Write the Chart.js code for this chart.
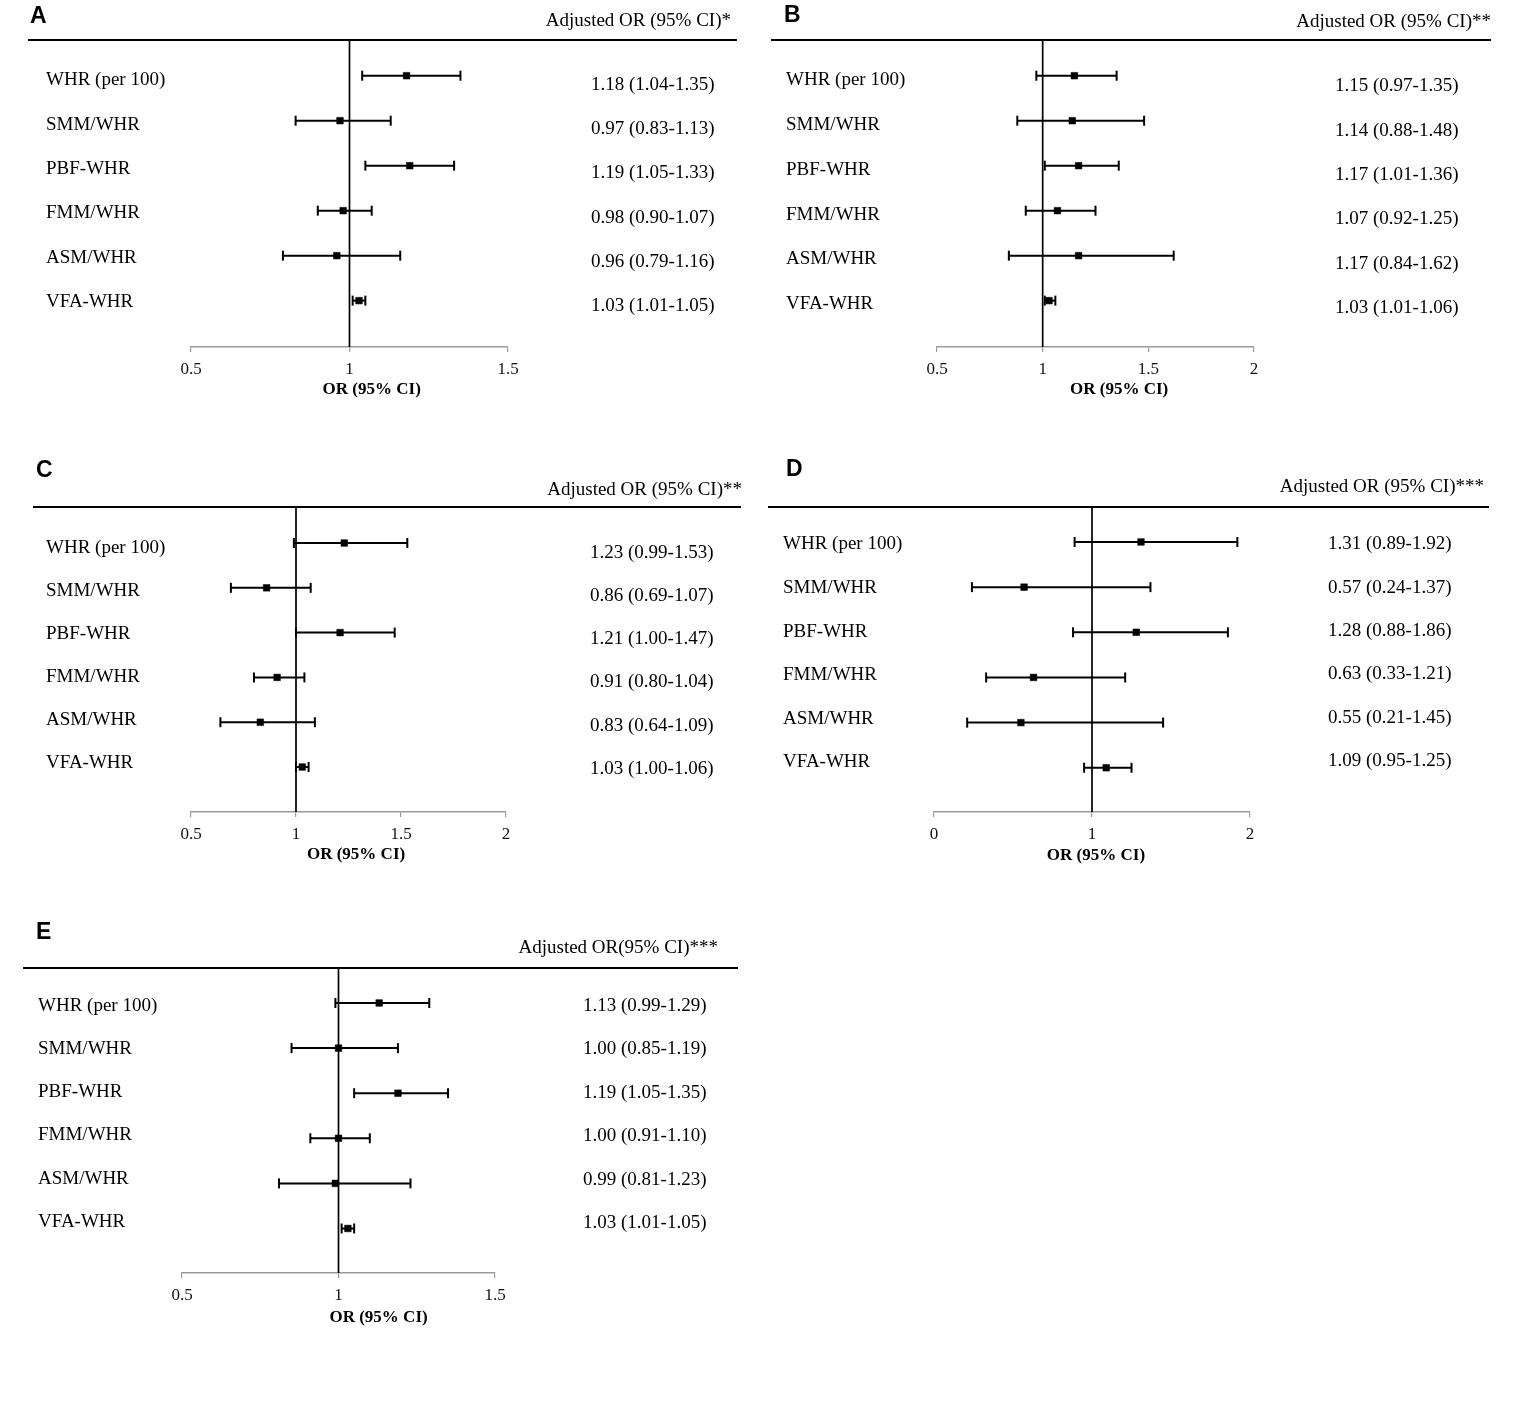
<!DOCTYPE html>
<html><head><meta charset="utf-8">
<script src="https://cdn.jsdelivr.net/npm/chart.js@4.4.1/dist/chart.umd.min.js"></script>
<style>
html,body{margin:0;padding:0;background:#fff;}
#wrap{position:relative;width:1535px;height:1402px;background:#fff;overflow:hidden;}
#wrap canvas{position:absolute;}
</style></head>
<body><div id="wrap"></div>
<script>
// ---------- data ----------
const categories = ["WHR (per 100)", "SMM/WHR", "PBF-WHR", "FMM/WHR", "ASM/WHR", "VFA-WHR"];
const refValue = 1;
const axisTitle = "OR (95% CI)";

const headerA = "Adjusted OR (95% CI)*";
const orA = [1.18, 0.97, 1.19, 0.98, 0.96, 1.03];
const loA = [1.04, 0.83, 1.05, 0.90, 0.79, 1.01];
const hiA = [1.35, 1.13, 1.33, 1.07, 1.16, 1.05];
const ticksA = [0.5, 1, 1.5];

const headerB = "Adjusted OR (95% CI)**";
const orB = [1.15, 1.14, 1.17, 1.07, 1.17, 1.03];
const loB = [0.97, 0.88, 1.01, 0.92, 0.84, 1.01];
const hiB = [1.35, 1.48, 1.36, 1.25, 1.62, 1.06];
const ticksB = [0.5, 1, 1.5, 2];

const headerC = "Adjusted OR (95% CI)**";
const orC = [1.23, 0.86, 1.21, 0.91, 0.83, 1.03];
const loC = [0.99, 0.69, 1.00, 0.80, 0.64, 1.00];
const hiC = [1.53, 1.07, 1.47, 1.04, 1.09, 1.06];
const ticksC = [0.5, 1, 1.5, 2];

const headerD = "Adjusted OR (95% CI)***";
const orD = [1.31, 0.57, 1.28, 0.63, 0.55, 1.09];
const loD = [0.89, 0.24, 0.88, 0.33, 0.21, 0.95];
const hiD = [1.92, 1.37, 1.86, 1.21, 1.45, 1.25];
const ticksD = [0, 1, 2];

const headerE = "Adjusted OR(95% CI)***";
const orE = [1.13, 1.00, 1.19, 1.00, 0.99, 1.03];
const loE = [0.99, 0.85, 1.05, 0.91, 0.81, 1.01];
const hiE = [1.29, 1.19, 1.35, 1.10, 1.23, 1.05];
const ticksE = [0.5, 1, 1.5];

// ---------- layout (page pixels) ----------
const layouts = {
  A:{canvas:[0,0,765,420], area:{L:191,R:508,T:40,B:347}, yr:[-0.794,6.031], letter:[30,17], header:[731,21], hline:[28,737],
     labelX:46, valueX:591, labelOff:[4.5,-0.55], valueOff:[9,-0.65], titleAt:1.07, titleY:390},
  B:{canvas:[765,0,770,420], area:{L:937,R:1254,T:40,B:347}, yr:[-0.794,6.031], letter:[784,16], header:[1491,22], hline:[771,1491],
     labelX:786, valueX:1335, labelOff:[4.8,-0.3], valueOff:[10.5,-0.6], titleAt:1.362, titleY:390},
  C:{canvas:[0,440,765,440], area:{L:191,R:506,T:507,B:812}, yr:[-0.804,6.004], letter:[36,471], header:[742,490], hline:[33,741],
     labelX:46, valueX:590, labelOff:[4.6,-1.7], valueOff:[9.8,-1.6], titleAt:1.286, titleY:855},
  D:{canvas:[765,440,770,440], area:{L:934,R:1250,T:507,B:812}, yr:[-0.775,5.98], letter:[786,470], header:[1484,487], hline:[768,1489],
     labelX:783, valueX:1328, labelOff:[2.5,-1.6], valueOff:[2.2,-1.8], titleAt:1.025, titleY:856},
  E:{canvas:[0,900,765,460], area:{L:182,R:495,T:968,B:1273}, yr:[-0.776,5.987], letter:[36,933], header:[718,948], hline:[23,738],
     labelX:38, valueX:583, labelOff:[2.6,-1.8], valueOff:[2.7,-1.6], titleAt:1.128, titleY:1318}
};

const panels = [
  {id:'A', header:headerA, or:orA, lo:loA, hi:hiA, ticks:ticksA},
  {id:'B', header:headerB, or:orB, lo:loB, hi:hiB, ticks:ticksB},
  {id:'C', header:headerC, or:orC, lo:loC, hi:hiC, ticks:ticksC},
  {id:'D', header:headerD, or:orD, lo:loD, hi:hiD, ticks:ticksD},
  {id:'E', header:headerE, or:orE, lo:loE, hi:hiE, ticks:ticksE}
];

const SERIF = '"Liberation Serif", "Times New Roman", serif';
const SANS = '"Liberation Sans", Arial, sans-serif';
const XH = 40; // fixed x-scale height

function fmt(v){ return v.toFixed(2); }

function makePlugin(p, L){
  return {
    id: 'forest' + p.id,
    afterDraw(chart){
      const ctx = chart.ctx, ox = L.canvas[0], oy = L.canvas[1];
      const xs = chart.scales.x, ys = chart.scales.y;
      ctx.save();
      // header rule
      ctx.strokeStyle = '#000'; ctx.lineWidth = 2;
      ctx.beginPath();
      ctx.moveTo(L.hline[0]-ox, chart.chartArea.top);
      ctx.lineTo(L.hline[1]-ox, chart.chartArea.top);
      ctx.stroke();
      ctx.fillStyle = '#000';
      // panel letter
      ctx.font = 'bold 23px ' + SANS;
      ctx.textAlign = 'left'; ctx.textBaseline = 'middle';
      ctx.fillText(p.id, L.letter[0]-ox, L.letter[1]-oy);
      // header
      ctx.font = '19px ' + SERIF;
      ctx.textAlign = 'right';
      ctx.fillText(p.header, L.header[0]-ox, L.header[1]-oy);
      // row labels and values
      ctx.textAlign = 'left';
      categories.forEach((c, i) => {
        const yb = ys.getPixelForValue(i);
        ctx.fillText(c, L.labelX-ox, yb + L.labelOff[0] + L.labelOff[1]*i);
        const txt = fmt(p.or[i]) + ' (' + fmt(p.lo[i]) + '-' + fmt(p.hi[i]) + ')';
        ctx.fillText(txt, L.valueX-ox, yb + L.valueOff[0] + L.valueOff[1]*i);
      });
      // axis title
      ctx.font = 'bold 17px ' + SERIF;
      ctx.textAlign = 'center';
      ctx.fillText(axisTitle, xs.getPixelForValue(L.titleAt), L.titleY-oy);
      ctx.restore();
    }
  };
}

const wrap = document.getElementById('wrap');
panels.forEach(p => {
  const L = layouts[p.id];
  const [cx, cy, cw, ch] = L.canvas;
  const cv = document.createElement('canvas');
  cv.width = cw; cv.height = ch;
  cv.style.left = cx + 'px'; cv.style.top = cy + 'px';
  cv.style.width = cw + 'px'; cv.style.height = ch + 'px';
  wrap.appendChild(cv);

  const datasets = [];
  p.or.forEach((v, i) => {
    datasets.push({data:[{x:v, y:i}], pointStyle:'rect', pointRadius:4.7,
      pointBackgroundColor:'#000', pointBorderColor:'#000', pointBorderWidth:0.5, showLine:false});
  });
  p.lo.forEach((lo, i) => {
    datasets.push({data:[{x:lo, y:i}, {x:p.hi[i], y:i}], showLine:true, borderColor:'#000', borderWidth:2,
      pointStyle:'line', pointRotation:90, pointRadius:5, pointBorderColor:'#000', pointBorderWidth:2});
  });
  datasets.push({data:[{x:refValue, y:L.yr[0]}, {x:refValue, y:L.yr[1]}], showLine:true,
    borderColor:'#000', borderWidth:1.7, pointRadius:0});

  new Chart(cv, {
    type:'scatter',
    data:{datasets},
    options:{
      responsive:false, animation:false, devicePixelRatio:1,
      events:[],
      layout:{padding:{left:L.area.L-cx, right:cx+cw-L.area.R, top:L.area.T-cy, bottom:cy+ch-L.area.B-XH}},
      plugins:{legend:{display:false}, tooltip:{enabled:false}},
      scales:{
        x:{type:'linear', min:p.ticks[0], max:p.ticks[p.ticks.length-1],
          afterBuildTicks:(s)=>{ s.ticks = p.ticks.map(v=>({value:v})); },
          afterFit:(s)=>{ s.height = XH; },
          grid:{drawOnChartArea:false, drawTicks:true, tickLength:5, color:'#9a9a9a', lineWidth:1.2},
          border:{display:true, color:'#9a9a9a', width:1.5},
          ticks:{font:{family:SERIF, size:17}, color:'#111', padding:7, maxRotation:0, autoSkip:false,
                 callback:(v)=>String(v)}
        },
        y:{type:'linear', display:false, reverse:true, min:L.yr[0], max:L.yr[1]}
      }
    },
    plugins:[makePlugin(p, L)]
  });
});
</script>
</body></html>
